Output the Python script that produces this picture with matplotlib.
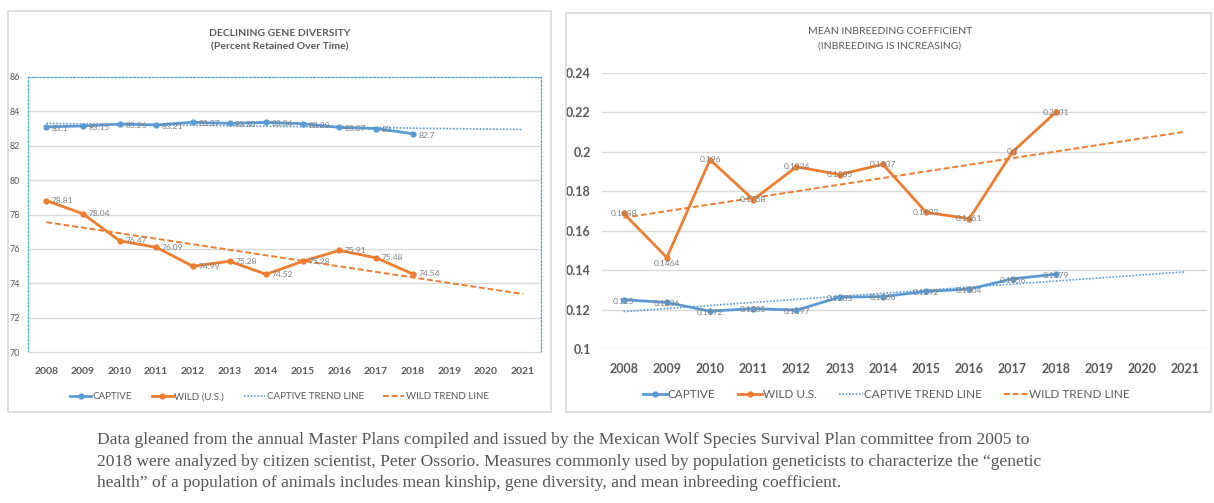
import numpy as np
import matplotlib
matplotlib.use("Agg")
import matplotlib.pyplot as plt
from matplotlib.patches import Rectangle

plt.rcParams['font.family'] = ['Lato', 'DejaVu Sans']

# --- DATOS ---
years = [2008, 2009, 2010, 2011, 2012, 2013, 2014, 2015, 2016, 2017, 2018]
all_years = [2008, 2009, 2010, 2011, 2012, 2013, 2014, 2015, 2016, 2017, 2018, 2019, 2020, 2021]

gd_captive = [83.1, 83.15, 83.26, 83.21, 83.37, 83.30, 83.36, 83.28, 83.07, 83.0, 82.7]
gd_wild = [78.81, 78.04, 76.47, 76.09, 74.99, 75.28, 74.52, 75.28, 75.91, 75.48, 74.54]
gd_captive_lbl = ["83.1", "83.15", "83.26", "83.21", "83.37", "83.30", "83.36", "83.28", "83.07", "83", "82.7"]
gd_wild_lbl = ["78.81", "78.04", "76.47", "76.09", "74.99", "75.28", "74.52", "75.28", "75.91", "75.48", "74.54"]

ib_captive = [0.125, 0.1236, 0.1192, 0.1205, 0.1197, 0.1263, 0.1266, 0.1292, 0.1304, 0.1356, 0.1379]
ib_wild = [0.1688, 0.1464, 0.196, 0.1758, 0.1924, 0.1885, 0.1937, 0.1693, 0.1661, 0.2, 0.2201]

gd_yticks = [70, 72, 74, 76, 78, 80, 82, 84, 86]
ib_yticks = [0.1, 0.12, 0.14, 0.16, 0.18, 0.2, 0.22, 0.24]
ib_ytick_lbl = ["0.1", "0.12", "0.14", "0.16", "0.18", "0.2", "0.22", "0.24"]

caption = [
    "Data gleaned from the annual Master Plans compiled and issued by the Mexican Wolf Species Survival Plan committee from 2005 to",
    "2018 were analyzed by citizen scientist, Peter Ossorio. Measures commonly used by population geneticists to characterize the \u201cgenetic",
    "health\u201d of a population of animals includes mean kinship, gene diversity, and mean inbreeding coefficient.",
]

AZUL = '#5B9BD5'
NARANJA = '#ED7D31'
GRIS = '#595959'
REJILLA = '#D9D9D9'

W, H = 1214, 503


def tendencia(y):
    x = np.arange(len(y))
    m, b = np.polyfit(x, y, 1)
    xx = np.arange(len(all_years))
    return m * xx + b


def px_axes(x0, x1, y0, y1):
    # y0 = arriba, y1 = abajo (pixeles)
    return fig.add_axes([x0 / W, 1 - y1 / H, (x1 - x0) / W, (y1 - y0) / H])


fig = plt.figure(figsize=(W / 100, H / 100), dpi=100)

# marcos de los paneles
fig.patches.append(Rectangle((8 / W, 1 - 412 / H), 543 / W, 401 / H, transform=fig.transFigure,
                             fill=False, edgecolor=REJILLA, linewidth=1.2))
fig.patches.append(Rectangle((566 / W, 1 - 412 / H), 645 / W, 399 / H, transform=fig.transFigure,
                             fill=False, edgecolor=REJILLA, linewidth=1.2))

idx = np.arange(len(years))
idx_all = np.arange(len(all_years))

# --- GRÁFICO 1: DIVERSIDAD GENÉTICA ---
ax1 = px_axes(28, 541, 77, 352)
for yv in gd_yticks[1:-1]:
    ax1.axhline(yv, color=REJILLA, linewidth=1, zorder=0)
ax1.plot(idx, gd_captive, color=AZUL, marker='o', markersize=3.5, linewidth=2, label='CAPTIVE', zorder=3)
ax1.plot(idx, gd_wild, color=NARANJA, marker='o', markersize=3.5, linewidth=2, label='WILD (U.S.)', zorder=3)
ax1.plot(idx_all, tendencia(gd_captive), color=AZUL, linestyle=(0, (1, 1)), linewidth=1.2,
         label='CAPTIVE TREND LINE', zorder=2)
ax1.plot(idx_all, tendencia(gd_wild), color=NARANJA, linestyle=(0, (3, 1.5)), linewidth=1.4,
         label='WILD TREND LINE', zorder=2)
for i, (v, t) in enumerate(zip(gd_captive, gd_captive_lbl)):
    ax1.annotate(t, (i, v), xytext=(4, -1), textcoords='offset points', fontsize=6,
                 color='#7F7F7F', va='center', ha='left')
for i, (v, t) in enumerate(zip(gd_wild, gd_wild_lbl)):
    ax1.annotate(t, (i, v), xytext=(4, 0), textcoords='offset points', fontsize=6,
                 color='#7F7F7F', va='center', ha='left')
ax1.set_xlim(-0.5, len(all_years) - 0.5)
ax1.set_ylim(70, 86)
ax1.set_yticks(gd_yticks)
ax1.set_yticklabels([str(v) for v in gd_yticks], fontsize=6.5, color=GRIS)
ax1.set_xticks(idx_all)
ax1.set_xticklabels([str(y) for y in all_years], fontsize=7.5, color=GRIS, fontweight='bold')
ax1.tick_params(length=0, pad=11, axis='x')
ax1.tick_params(length=0, pad=6, axis='y')
for s in ax1.spines.values():
    s.set_color('#4BACC6')
    s.set_linestyle((0, (1.5, 1.5)))
    s.set_linewidth(0.9)
ax1.spines['bottom'].set_color(REJILLA)
ax1.spines['bottom'].set_linestyle('-')
ax1.legend(loc='center', bbox_to_anchor=(0.49, -0.163), ncol=4, frameon=False, fontsize=7,
           labelcolor=GRIS, handlelength=2.2, columnspacing=2.0, handletextpad=0.15)
fig.text(280 / W, 1 - 33 / H, "DECLINING GENE DIVERSITY", ha='center', va='center',
         fontsize=7.5, fontweight='bold', color=GRIS)
fig.text(280 / W, 1 - 47 / H, "(Percent Retained Over Time)", ha='center', va='center',
         fontsize=7.5, fontweight='bold', color=GRIS)

# --- GRÁFICO 2: COEFICIENTE DE CONSANGUINIDAD ---
ax2 = px_axes(602, 1207, 73, 349)
for yv in ib_yticks:
    ax2.axhline(yv, color=REJILLA, linewidth=1, zorder=0)
ax2.plot(idx, ib_captive, color=AZUL, marker='o', markersize=3.5, linewidth=2, label='CAPTIVE', zorder=3)
ax2.plot(idx, ib_wild, color=NARANJA, marker='o', markersize=3.5, linewidth=2, label='WILD U.S.', zorder=3)
ax2.plot(idx_all, tendencia(ib_captive), color=AZUL, linestyle=(0, (1, 1)), linewidth=1.2,
         label='CAPTIVE TREND LINE', zorder=2)
ax2.plot(idx_all, tendencia(ib_wild), color=NARANJA, linestyle=(0, (3, 1.5)), linewidth=1.4,
         label='WILD TREND LINE', zorder=2)
for i, v in enumerate(ib_captive):
    ax2.annotate(f"{v:g}", (i, v), xytext=(0, -1), textcoords='offset points', fontsize=6,
                 color='#7F7F7F', va='center', ha='center', zorder=4)
for i, v in enumerate(ib_wild):
    off = -4 if i == 1 else 0
    ax2.annotate(f"{v:g}", (i, v), xytext=(0, off), textcoords='offset points', fontsize=6,
                 color='#7F7F7F', va='center', ha='center', zorder=4)
ax2.set_xlim(-0.5, len(all_years) - 0.5)
ax2.set_ylim(0.1, 0.24)
ax2.set_yticks(ib_yticks)
ax2.set_yticklabels(ib_ytick_lbl, fontsize=9, color=GRIS, fontweight='bold')
ax2.set_xticks(idx_all)
ax2.set_xticklabels([str(y) for y in all_years], fontsize=9, color=GRIS, fontweight='bold')
ax2.tick_params(length=0, pad=10, axis='x')
ax2.tick_params(length=0, pad=8, axis='y')
for s in ax2.spines.values():
    s.set_visible(False)
ax2.legend(loc='center', bbox_to_anchor=(0.47, -0.165), ncol=4, frameon=False, fontsize=8.5,
           labelcolor=GRIS, handlelength=2.0, columnspacing=1.9, handletextpad=0.1)
fig.text(890 / W, 1 - 31 / H, "MEAN INBREEDING COEFFICIENT", ha='center', va='center',
         fontsize=7.5, color=GRIS)
fig.text(890 / W, 1 - 46 / H, "(INBREEDING IS INCREASING)", ha='center', va='center',
         fontsize=7.5, color=GRIS)

# --- PIE DE FIGURA ---
for k, linea in enumerate(caption):
    fig.text(97 / W, 1 - (440 + 21.5 * k) / H, linea, ha='left', va='center',
             fontsize=12.6, color='#555555', family=['Liberation Serif', 'DejaVu Serif'])

fig.savefig('out.png', dpi=100)
